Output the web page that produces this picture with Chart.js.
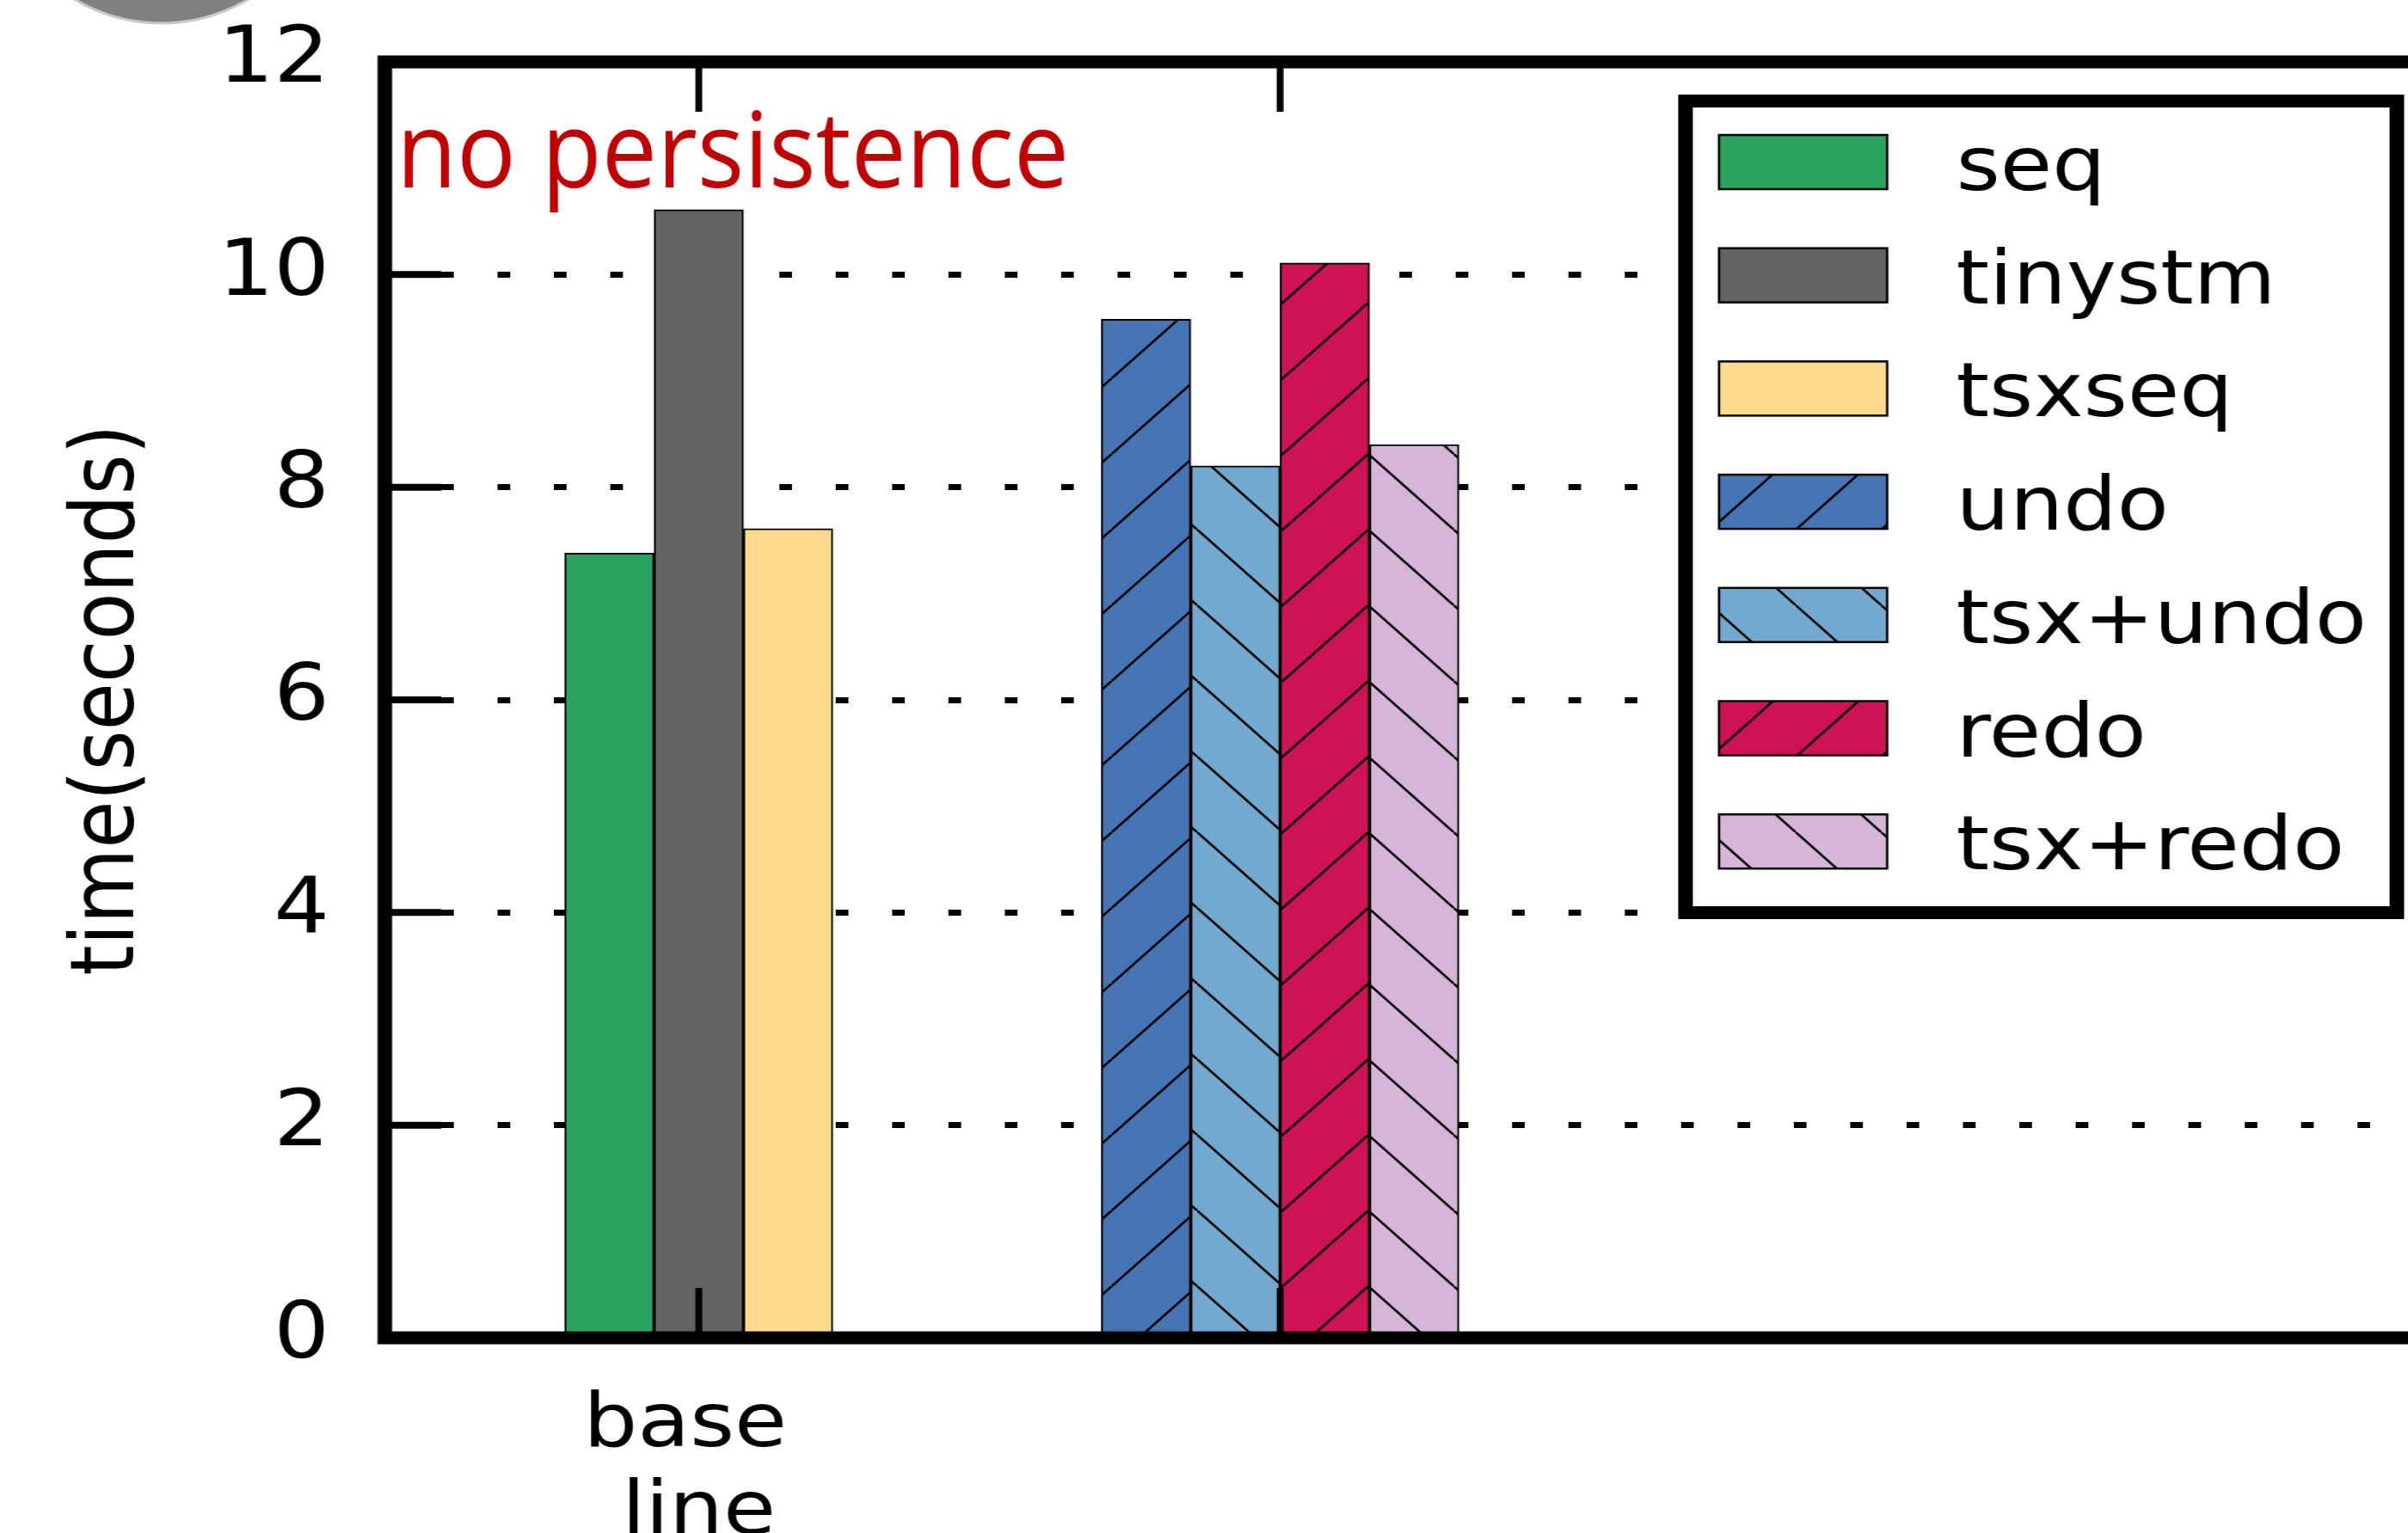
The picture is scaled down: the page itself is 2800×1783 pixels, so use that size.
<!DOCTYPE html>
<html>
<head>
<meta charset="utf-8">
<script src="https://cdn.jsdelivr.net/npm/chart.js@4.4.1/dist/chart.umd.min.js"></script>
<style>
  html, body { margin: 0; padding: 0; background: #fff; overflow: hidden; }
  #chart { display: block; }
</style>
</head>
<body>
<!-- the source figure is stretched sideways, so the bitmap is drawn narrower and scaled up -->
<canvas id="chart" width="2478" height="1783" style="width:2800px;height:1783px"></canvas>
<script>
// ── data ─────────────────────────────────────────────────────────
const groupPositions = [0, 1];
const groupLabels    = [['base ', 'line'], ''];
const seriesNames    = ['seq', 'tinystm', 'tsxseq', 'undo', 'tsx+undo', 'redo', 'tsx+redo'];
const seqTime        = [7.38, null];
const tinystmTime    = [10.61, null];
const tsxseqTime     = [7.61, null];
const undoTime       = [null, 9.58];
const tsxUndoTime    = [null, 8.20];
const redoTime       = [null, 10.11];
const tsxRedoTime    = [null, 8.40];
const yTicks         = [0, 2, 4, 6, 8, 10, 12];
const annotation     = 'no persistence';

const seriesValues = [seqTime, tinystmTime, tsxseqTime, undoTime, tsxUndoTime, redoTime, tsxRedoTime];

const SERIES_STYLE = [
  { color: '#2ca25f', hatch: null },
  { color: '#636363', hatch: null },
  { color: '#fed98e', hatch: null },
  { color: '#4575b4', hatch: '/' },
  { color: '#74a9cf', hatch: '\\' },
  { color: '#ce1256', hatch: '/' },
  { color: '#d7b5d8', hatch: '\\' },
];

const FONT = 'DejaVu Sans';
const X_MIN = -0.54;
const X_MAX = 2.94;

function hatchFill(color, dir) {
  if (!dir) return color;
  const s = 88;
  const tile = document.createElement('canvas');
  tile.width = s; tile.height = s;
  const c = tile.getContext('2d');
  c.fillStyle = color;
  c.fillRect(0, 0, s, s);
  c.strokeStyle = '#000';
  c.lineWidth = 2.6;
  c.beginPath();
  for (let k = -1; k <= 1; k++) {
    if (dir === '/') { c.moveTo(k * s, s); c.lineTo(k * s + s, 0); }
    else             { c.moveTo(k * s, 0); c.lineTo(k * s + s, s); }
  }
  c.stroke();
  return c.createPattern(tile, 'repeat');
}

// ── frame, inward ticks, legend box and overlay text ─────────────
const decorPlugin = {
  id: 'decor',
  beforeDraw(chart) {
    const c = chart.ctx;
    c.save();
    c.beginPath();
    c.ellipse(166, -188, 182, 215, 0, 0, Math.PI * 2);
    c.fillStyle = '#808080';
    c.fill();
    c.lineWidth = 3;
    c.strokeStyle = '#c8c8c8';
    c.stroke();
    c.restore();
  },
  afterDraw(chart) {
    const { ctx: c, chartArea: a, scales } = chart;
    const xs = scales.x, ys = scales.y;
    c.save();

    // spines (right one falls outside the picture)
    c.strokeStyle = '#000';
    c.lineWidth = 15;
    c.lineJoin = 'miter';
    c.beginPath();
    c.moveTo(a.right + 10, a.top);
    c.lineTo(a.left, a.top);
    c.lineTo(a.left, a.bottom);
    c.lineTo(a.right + 10, a.bottom);
    c.stroke();

    // inward tick marks
    c.lineWidth = 8;
    c.beginPath();
    yTicks.forEach(v => {
      const py = ys.getPixelForValue(v);
      c.moveTo(a.left, py);
      c.lineTo(a.left + 58, py);
    });
    c.stroke();
    c.lineWidth = 7;
    c.beginPath();
    groupPositions.forEach(v => {
      const px = xs.getPixelForValue(v);
      c.moveTo(px, a.top);    c.lineTo(px, a.top + 58);
      c.moveTo(px, a.bottom); c.lineTo(px, a.bottom - 58);
    });
    c.stroke();

    // annotation
    c.fillStyle = '#c00000';
    c.font = "122px 'Open Sans'";
    c.textAlign = 'left';
    c.textBaseline = 'alphabetic';
    c.fillText(annotation, a.left + 12, a.top + 146, 692);

    // legend
    const box = { x: 1734.5, y: 117.5, w: 732, h: 944 };
    c.fillStyle = '#fff';
    c.fillRect(box.x, box.y, box.w, box.h);
    c.lineWidth = 15;
    c.strokeStyle = '#000';
    c.strokeRect(box.x, box.y, box.w, box.h);

    c.font = `87px '${FONT}'`;
    chart.data.datasets.forEach((ds, i) => {
      const top = 157 + i * 131.7;
      c.fillStyle = ds.backgroundColor;
      c.fillRect(1769, top, 173, 63);
      c.lineWidth = 2.5;
      c.strokeStyle = '#000';
      c.strokeRect(1769, top, 173, 63);
      c.fillStyle = '#000';
      c.fillText(ds.label, 2013, top + 64);
    });

    c.restore();
  }
};

new Chart(document.getElementById('chart'), {
  type: 'bar',
  data: {
    datasets: seriesNames.map((name, i) => ({
      label: name,
      data: groupPositions.map((x, j) => ({ x, y: seriesValues[i][j] })),
      backgroundColor: hatchFill(SERIES_STYLE[i].color, SERIES_STYLE[i].hatch),
      borderColor: '#000',
      borderWidth: 2,
      borderSkipped: false,
      barThickness: 92,
      skipNull: true,
    }))
  },
  plugins: [decorPlugin],
  options: {
    responsive: false,
    animation: false,
    events: [],
    layout: { padding: { top: 72, left: 0, right: 0, bottom: 0 } },
    plugins: {
      legend: { display: false },
      tooltip: { enabled: false }
    },
    scales: {
      x: {
        type: 'linear',
        min: X_MIN,
        max: X_MAX,
        offset: false,
        afterBuildTicks: s => { s.ticks = groupPositions.map(v => ({ value: v })); },
        afterFit: s => { s.height = 227; s.paddingLeft = 0; s.paddingRight = 0; },
        grid: { display: false, drawTicks: false },
        border: { display: false },
        ticks: {
          autoSkip: false,
          maxRotation: 0,
          padding: 52,
          color: '#000',
          font: { family: FONT, size: 88, lineHeight: 1.16 },
          callback: (v, i) => groupLabels[i]
        }
      },
      y: {
        min: 0,
        max: 12,
        z: 1,
        afterBuildTicks: s => { s.ticks = yTicks.map(v => ({ value: v })); },
        afterFit: s => { s.width = 396; s.paddingTop = 0; s.paddingBottom = 0; },
        grid: { color: '#000', lineWidth: 7, drawTicks: false },
        border: { display: false, dash: [13, 45] },
        ticks: {
          padding: 57,
          color: '#000',
          font: { family: FONT, size: 90 }
        },
        title: {
          display: true,
          text: 'time(seconds)',
          color: '#000',
          font: { family: FONT, size: 90 },
          padding: { top: 60, bottom: 0 }
        }
      }
    }
  }
});
</script>
</body>
</html>
